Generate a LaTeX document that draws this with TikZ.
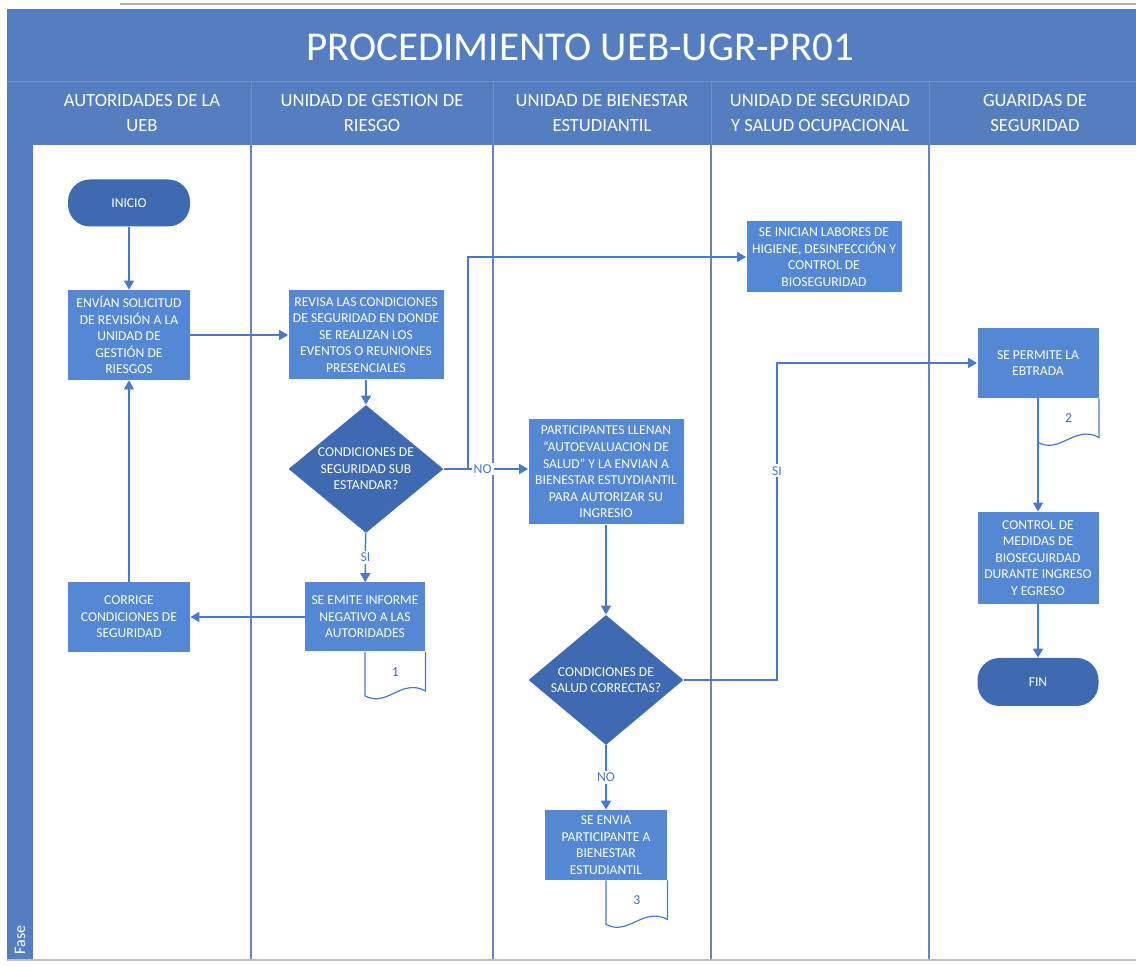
\documentclass[tikz,border=0pt]{standalone}
\usepackage{fontspec}
\setmainfont{Carlito}
\usetikzlibrary{arrows.meta, shapes.geometric, calc, positioning}
\definecolor{headBlue}{RGB}{84,126,192}
\definecolor{boxBlue}{RGB}{84,135,212}
\definecolor{darkBlue}{RGB}{62,106,178}
\definecolor{lineBlue}{RGB}{74,120,204}
\definecolor{laneGray}{RGB}{105,130,190}
\newcommand{\boxFont}{\fontsize{6.8}{8.3}\selectfont}
\newcommand{\headFont}{\fontsize{9.3}{12.5}\selectfont}
\tikzset{
    procBox/.style={rectangle, fill=boxBlue, text=white, font=\boxFont, align=center, inner sep=1pt},
    decisionBox/.style={diamond, aspect=1.2, fill=darkBlue, text=white, font=\boxFont, align=center, inner sep=0pt},
    termBox/.style={rectangle, rounded corners=11pt, fill=darkBlue, text=white, font=\boxFont, minimum width=61pt, minimum height=23.5pt},
    flowArrow/.style={-{Triangle[width=5pt,length=4.5pt]}, lineBlue, line width=0.75pt},
    branchLabel/.style={fill=white, text=lineBlue, font=\boxFont, inner sep=1pt},
    laneLine/.style={laneGray, line width=0.7pt},
    laneHead/.style={text=white, font=\headFont, align=center},
    docTab/.style={draw=lineBlue, fill=white, line width=0.6pt},
    docNum/.style={font=\boxFont, text=darkBlue},
}
\newcommand{\drawDocTab}[2]{
    % hoja de documento bajo la caja
    \coordinate (#1dl) at ($(#1.south)+(0,44)$);
    \coordinate (#1dr) at ($(#1.south east)+(0,39)$);
    \filldraw[docTab] (#1.south) -- (#1dl) .. controls ($(#1dl)+(22,12)$) and ($(#1dr)+(-24,-13)$) .. (#1dr) -- (#1.south east);
    \node[docNum] (#1num) at ($(#1.south)!0.5!(#1.south east)+(0,20)$) {#2};
}
\begin{document}
\begin{tikzpicture}[x=0.5pt, y=-0.5pt]
    \useasboundingbox (0,0) rectangle (1136,967);
    \fill[white] (0,0) rectangle (1136,967);

    % marco y carriles
    \draw[gray!60, line width=1pt] (120,4) -- (1136,4);
    \fill[headBlue] (7,9) rectangle (1136,145);
    \fill[headBlue] (7,145) rectangle (33,960);
    \draw[headBlue!85!white, line width=0.5pt] (7,82) -- (1136,82);
    \foreach \x in {251,493,711,929} {
        \draw[headBlue!85!white, line width=0.5pt] (\x,82) -- (\x,145);
        \draw[laneLine] (\x,145) -- (\x,960);
    }
    \draw[gray!50, line width=0.6pt] (7,960) -- (1136,960);

    \node[text=white, font=\fontsize{20.5}{24}\selectfont] (title) at (580,47) {PROCEDIMIENTO UEB-UGR-PR01};
    \node[laneHead] (lane1) at (142,113) {AUTORIDADES DE LA\\UEB};
    \node[laneHead] (lane2) at (372,113) {UNIDAD DE GESTION DE\\RIESGO};
    \node[laneHead] (lane3) at (602,113) {UNIDAD DE BIENESTAR\\ESTUDIANTIL};
    \node[laneHead] (lane4) at (820,113) {UNIDAD DE SEGURIDAD\\Y SALUD OCUPACIONAL};
    \node[laneHead] (lane5) at (1035,113) {GUARIDAS DE\\SEGURIDAD};
    \node[rotate=90, text=white, font=\fontsize{8}{9}\selectfont] (fase) at (20,940) {Fase};

    % pasos
    \node[termBox] (inicio) at (129,203) {INICIO};
    \node[procBox, minimum width=61pt, minimum height=45pt] (envian) at (129,335) {ENVÍAN SOLICITUD\\DE REVISIÓN A LA\\UNIDAD DE\\GESTIÓN DE\\RIESGOS};
    \node[procBox, minimum width=77.5pt, minimum height=44.5pt] (revisa) at (366,335) {REVISA LAS CONDICIONES\\DE SEGURIDAD EN DONDE\\SE REALIZAN LOS\\EVENTOS O REUNIONES\\PRESENCIALES};
    \node[decisionBox, minimum width=77.5pt, minimum height=64pt] (cond1) at (366,469) {CONDICIONES DE\\SEGURIDAD SUB\\ESTANDAR?};
    \node[procBox, minimum width=60pt, minimum height=34.5pt] (emite) at (365,617) {SE EMITE INFORME\\NEGATIVO A LAS\\AUTORIDADES};
    \node[procBox, minimum width=61pt, minimum height=35pt] (corrige) at (129,617) {CORRIGE\\CONDICIONES DE\\SEGURIDAD};
    \node[procBox, minimum width=77.5pt, minimum height=52.5pt] (particip) at (606,472) {PARTICIPANTES LLENAN\\``AUTOEVALUACION DE\\SALUD'' Y LA ENVIAN A\\BIENESTAR ESTUYDIANTIL\\PARA AUTORIZAR SU\\INGRESIO};
    \node[decisionBox, minimum width=77.5pt, minimum height=65pt] (cond2) at (606,680) {CONDICIONES DE\\SALUD CORRECTAS?};
    \node[procBox, minimum width=61pt, minimum height=35pt] (envia) at (606,845) {SE ENVIA\\PARTICIPANTE A\\BIENESTAR\\ESTUDIANTIL};
    \node[procBox, minimum width=77.5pt, minimum height=35.5pt] (inician) at (824,257) {SE INICIAN LABORES DE\\HIGIENE, DESINFECCIÓN Y\\CONTROL DE\\BIOSEGURIDAD};
    \node[procBox, minimum width=60.5pt, minimum height=35pt] (permite) at (1038,363) {SE PERMITE LA\\EBTRADA};
    \node[procBox, minimum width=60.5pt, minimum height=46pt] (control) at (1038,558) {CONTROL DE\\MEDIDAS DE\\BIOSEGUIRDAD\\DURANTE INGRESO\\Y EGRESO};
    \node[termBox, minimum width=60.5pt, minimum height=24pt] (fin) at (1038,682) {FIN};

    \drawDocTab{emite}{1}
    \drawDocTab{envia}{3}
    \drawDocTab{permite}{2}

    % conectores
    \coordinate (split1) at (468,469);
    \coordinate (turn2) at (777,680);
    \draw[flowArrow] (inicio) -- (envian);
    \draw[flowArrow] (envian) -- (revisa);
    \draw[flowArrow] (revisa) -- (cond1);
    \draw[flowArrow] (cond1) -- node[branchLabel, pos=0.46] {NO} (particip.west |- cond1);
    \draw[flowArrow] (split1) |- (inician.west);
    \draw[flowArrow] (cond1) -- node[branchLabel] {SI} (emite);
    \draw[flowArrow] (emite) -- (corrige);
    \draw[flowArrow] (corrige) -- (envian);
    \draw[flowArrow] (particip) -- (cond2);
    \draw[flowArrow] (cond2.east) -- (turn2) |- node[branchLabel, pos=0.33] {SI} (permite.west);
    \draw[flowArrow] (cond2) -- node[branchLabel] {NO} (envia);
    \draw[flowArrow] (permite.south) -- (control);
    \draw[flowArrow] (control) -- (fin);

\end{tikzpicture}
\end{document}
